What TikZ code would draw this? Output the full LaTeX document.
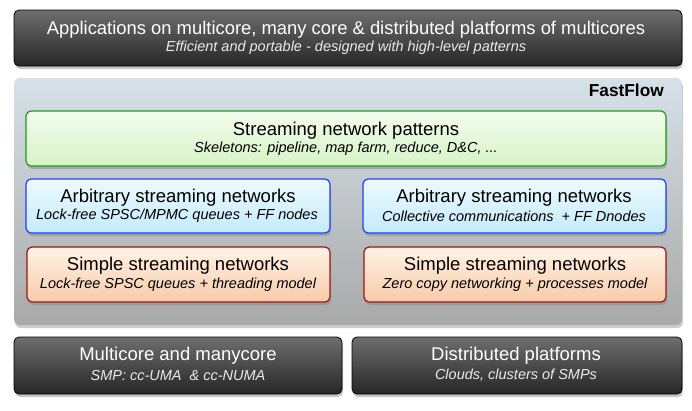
\documentclass[tikz,border=0pt]{standalone}
\usepackage{fontspec}
\setmainfont{Liberation Sans}
\usetikzlibrary{shadows}
\definecolor{darktop}{HTML}{6E6E6E}
\definecolor{darkbot}{HTML}{262626}
\definecolor{paneltop}{HTML}{D6E1E8}
\definecolor{panelbot}{HTML}{A9A9A9}
\definecolor{greenline}{HTML}{1E9A1E}
\definecolor{greentop}{HTML}{F3FCEE}
\definecolor{greenbot}{HTML}{D6F3C6}
\definecolor{blueline}{HTML}{1F3DFF}
\definecolor{bluetop}{HTML}{EEFAFF}
\definecolor{bluebot}{HTML}{C4EAFA}
\definecolor{redline}{HTML}{9E1410}
\definecolor{orangetop}{HTML}{FFF3E6}
\definecolor{orangebot}{HTML}{F8CBA8}
\tikzset{
  boxbase/.style={rounded corners=5pt, line width=0.8pt, drop shadow={shadow xshift=1pt, shadow yshift=-3pt, opacity=0.45}},
  darkbox/.style={boxbase, draw=black, top color=darktop, bottom color=darkbot, text=white},
  panelbox/.style={rounded corners=6pt, draw=none, top color=paneltop, bottom color=panelbot, drop shadow={shadow xshift=1pt, shadow yshift=-3pt, opacity=0.4}},
  greenbox/.style={boxbase, draw=greenline, line width=1.2pt, top color=greentop, bottom color=greenbot},
  bluebox/.style={boxbase, draw=blueline, line width=1.2pt, top color=bluetop, bottom color=bluebot},
  redbox/.style={boxbase, draw=redline, line width=1.2pt, top color=orangetop, bottom color=orangebot},
  title/.style={font=\fontsize{18.5}{20}\selectfont, inner sep=0pt},
  bigtitle/.style={font=\fontsize{18.4}{20}\selectfont, inner sep=0pt},
  sub/.style={font=\fontsize{14.5}{16}\selectfont\itshape, inner sep=0pt},
}
\begin{document}
\begin{tikzpicture}[x=1pt,y=-1pt]
\useasboundingbox (0,0) rectangle (692,410);
% top
\path[darkbox] (14,10) rectangle (682,66);
\node[bigtitle, text=white] (apptitle) at (346,30) {Applications on multicore, many core \& distributed platforms of multicores};
\node[sub, text=white!92!black] (appsub) at (346,48) {Efficient and portable - designed with high-level patterns};
% panel
\path[panelbox] (14,78) rectangle (682,325);
\node[font=\fontsize{17.3}{19}\selectfont\bfseries, anchor=east, inner sep=0pt] (ff) at (664,90) {FastFlow};
% green
\path[greenbox] (26,111) rectangle (666,166);
\node[title] (pattitle) at (346,131) {Streaming network patterns};
\node[sub] (patsub) at (346,149) {Skeletons: pipeline, map farm, reduce, D\&C, ...};
% blue
\path[bluebox] (26,179) rectangle (330,233);
\node[title] (b1t) at (178,198) {Arbitrary streaming networks};
\node[sub] (b1s) at (177,216) {Lock-free SPSC/MPMC queues + FF nodes};
\path[bluebox] (363,179) rectangle (666,233);
\node[title] (b2t) at (514,198) {Arbitrary streaming networks};
\node[sub] (b2s) at (514,216) {Collective communications \ + FF Dnodes};
% orange
\path[redbox] (27,247) rectangle (330,302);
\node[title] (o1t) at (178,266) {Simple streaming networks};
\node[sub] (o1s) at (178,285) {Lock-free SPSC queues + threading model};
\path[redbox] (364,247) rectangle (666,302);
\node[title] (o2t) at (515,266) {Simple streaming networks};
\node[sub] (o2s) at (515,285) {Zero copy networking + processes model};
% bottom
\path[darkbox] (14,337) rectangle (342,394);
\node[title, text=white] (m1t) at (178,356) {Multicore and manycore};
\node[sub, text=white!92!black] (m1s) at (178,375) {SMP: cc-UMA \ \& cc-NUMA};
\path[darkbox] (352,337) rectangle (682,394);
\node[title, text=white] (m2t) at (516,356) {Distributed platforms};
\node[sub, text=white!92!black] (m2s) at (516,375) {Clouds, clusters of SMPs};
\end{tikzpicture}
\end{document}
